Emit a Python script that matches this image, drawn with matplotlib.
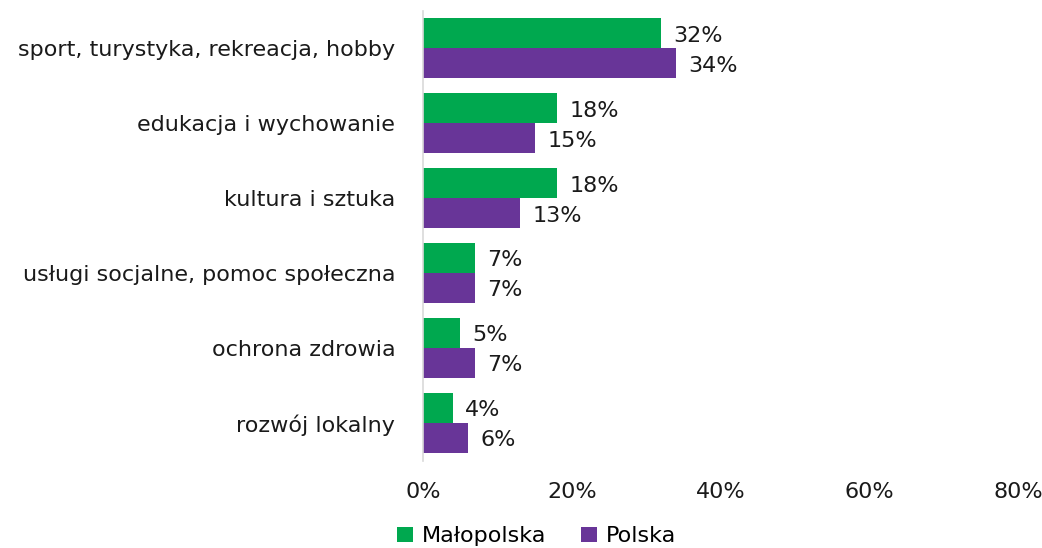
import numpy as np
import matplotlib
matplotlib.use("Agg")
import matplotlib.pyplot as plt
from matplotlib.ticker import FuncFormatter

categories = [
    "sport, turystyka, rekreacja, hobby",
    "edukacja i wychowanie",
    "kultura i sztuka",
    "usługi socjalne, pomoc społeczna",
    "ochrona zdrowia",
    "rozwój lokalny",
]
malopolska = [32, 18, 18, 7, 5, 4]
polska = [34, 15, 13, 7, 7, 6]
series_names = ["Małopolska", "Polska"]
x_ticks = [0, 20, 40, 60, 80]

GREEN = "#00a84f"
PURPLE = "#683598"
TEXT = "#1a1a1a"
FS = 16

plt.rcParams["font.family"] = ["DejaVu Sans"]

fig = plt.figure(figsize=(10.42, 5.48), dpi=100)
ax = fig.add_axes([0.406, 0.159, 0.571, 0.821])

y = np.arange(len(categories))
h = 0.4
b1 = ax.barh(y - h / 2, malopolska, height=h, color=GREEN, label=series_names[0])
b2 = ax.barh(y + h / 2, polska, height=h, color=PURPLE, label=series_names[1])

for bars, vals in ((b1, malopolska), (b2, polska)):
    for bar, v in zip(bars, vals):
        ax.annotate(f"{v}%", (bar.get_width(), bar.get_y() + bar.get_height() / 2),
                    xytext=(9, -1.5), textcoords="offset points", va="center", ha="left",
                    fontsize=FS, color=TEXT)

ax.set_xlim(0, 80)
ax.set_ylim(len(categories) - 0.5, -0.5)
ax.set_yticks(y)
ax.set_yticklabels(categories, fontsize=FS, color=TEXT)
ax.set_xticks(x_ticks)
ax.xaxis.set_major_formatter(FuncFormatter(lambda v, p: f"{v:.0f}%"))
ax.tick_params(axis="x", labelsize=FS, colors=TEXT, length=0, pad=15)
ax.tick_params(axis="y", length=0, pad=20)

for s in ("top", "right", "bottom"):
    ax.spines[s].set_visible(False)
ax.spines["left"].set_color("#d9d9d9")
ax.spines["left"].set_linewidth(1.2)

fig.legend(loc="lower center", bbox_to_anchor=(0.515, -0.033), ncol=2, frameon=False,
           fontsize=FS, handlelength=0.7, handleheight=0.7, handletextpad=0.4,
           columnspacing=1.6)

fig.savefig("out.png", dpi=100)
